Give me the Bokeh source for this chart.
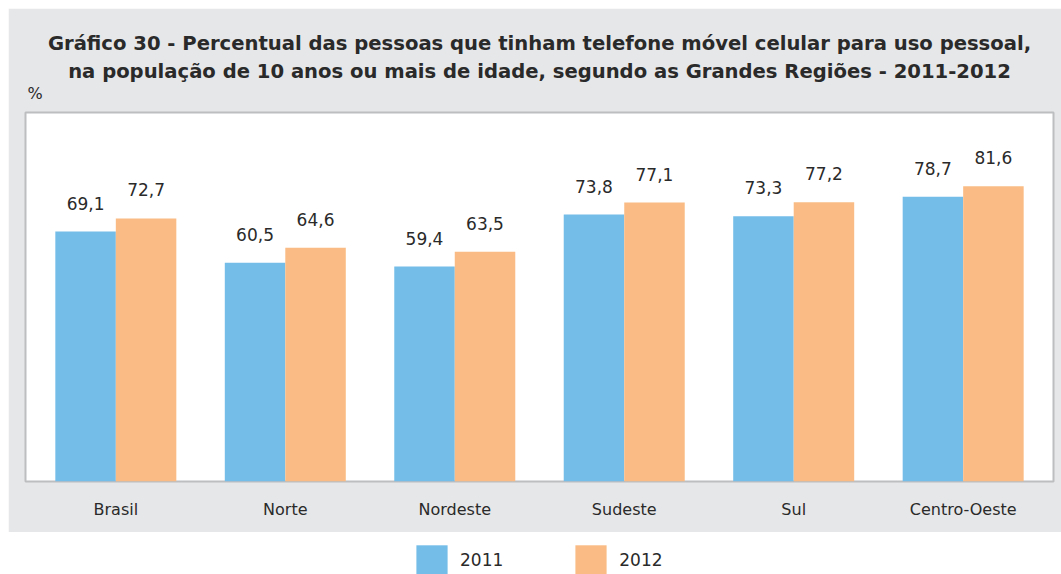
from bokeh.plotting import figure
from bokeh.models import (ColumnDataSource, FactorRange, Range1d, LabelSet, Title,
                          Legend, LegendItem)
from bokeh.core.properties import value
from bokeh.transform import dodge
from bokeh.layouts import column
from bokeh.embed import file_html
from bokeh.resources import INLINE

categories = ["Brasil", "Norte", "Nordeste", "Sudeste", "Sul", "Centro-Oeste"]
v2011 = [69.1, 60.5, 59.4, 73.8, 73.3, 78.7]
v2012 = [72.7, 64.6, 63.5, 77.1, 77.2, 81.6]
series_names = ["2011", "2012"]
title_lines = [
    "Gráfico 30 - Percentual das pessoas que tinham telefone móvel celular para uso pessoal,",
    "na população de 10 anos ou mais de idade, segundo as Grandes Regiões - 2011-2012",
]
unit_label = "%"

BLUE = "#74bde8"
ORANGE = "#fabc84"
PANEL = "#e6e7e8"
TEXT = "#2a2a2a"
FONT = "DejaVu Sans"

def fmt(v):
    return f"{v:.1f}".replace(".", ",")

src = ColumnDataSource(dict(
    cat=categories,
    v2011=v2011,
    v2012=v2012,
    l2011=[fmt(v) for v in v2011],
    l2012=[fmt(v) for v in v2012],
))

p = figure(x_range=FactorRange(factors=categories, range_padding=0.011),
           y_range=Range1d(0, 102),
           width=1053, height=524, output_backend="svg", toolbar_location=None,
           min_border_left=17, min_border_right=8, min_border_bottom=51,
           min_border_top=104,
           border_fill_color=PANEL, background_fill_color="white",
           outline_line_color="#bcbec0", outline_line_width=2)

p.vbar(x=dodge("cat", -0.1785, range=p.x_range), top="v2011", width=0.357,
       source=src, fill_color=BLUE, line_color=None)
p.vbar(x=dodge("cat", 0.1785, range=p.x_range), top="v2012", width=0.357,
       source=src, fill_color=ORANGE, line_color=None)

for col, off in (("2011", -0.1785), ("2012", 0.1785)):
    p.add_layout(LabelSet(x=dodge("cat", off, range=p.x_range), y="v" + col,
                          text="l" + col, source=src, text_align="center",
                          text_baseline="alphabetic", y_offset=22,
                          text_font=value(FONT), text_font_size="17px",
                          text_color=TEXT))

p.xgrid.visible = False
p.ygrid.visible = False
p.yaxis.visible = False
p.xaxis.axis_line_color = None
p.xaxis.major_tick_line_color = None
p.xaxis.minor_tick_line_color = None
p.xaxis.major_label_text_font = FONT
p.xaxis.major_label_text_font_size = "16px"
p.xaxis.major_label_text_color = TEXT
p.xaxis.major_label_standoff = 12

p.add_layout(Title(text=unit_label, align="left", offset=2, text_font=FONT,
                   text_font_size="16px", text_font_style="normal",
                   text_color=TEXT, standoff=20), "above")
p.add_layout(Title(text=title_lines[1], align="center", text_font=FONT,
                   text_font_size="19.6px", text_font_style="bold",
                   text_color=TEXT, standoff=-22), "above")
p.add_layout(Title(text=title_lines[0], align="center", text_font=FONT,
                   text_font_size="19.6px", text_font_style="bold",
                   text_color=TEXT, standoff=27), "above")

# legend strip below the panel
p2 = figure(x_range=FactorRange(factors=categories), y_range=Range1d(0, 1),
            width=1053, height=42, output_backend="svg", toolbar_location=None,
            min_border_left=0, min_border_right=0, min_border_top=0,
            min_border_bottom=0, outline_line_color=None,
            background_fill_color="white", border_fill_color="white")
p2.axis.visible = False
p2.grid.visible = False
r1 = p2.vbar(x="cat", top="v2011", width=0.3, source=src, fill_color=BLUE,
             line_color=None, visible=False)
r2 = p2.vbar(x="cat", top="v2012", width=0.3, source=src, fill_color=ORANGE,
             line_color=None, visible=False)
legend = Legend(items=[LegendItem(label=series_names[0], renderers=[r1]),
                       LegendItem(label=series_names[1], renderers=[r2])],
                location=(387, -5), orientation="horizontal",
                glyph_width=39, glyph_height=38, label_standoff=9, spacing=68,
                padding=0, margin=0, border_line_color=None,
                background_fill_alpha=0, label_text_font=FONT,
                label_text_font_size="17px", label_text_color=TEXT)
p2.add_layout(legend, "center")

layout = column(p, p2, spacing=0, margin=(8, 0, 0, 8))
open("out.html", "w").write(file_html(layout, INLINE))
